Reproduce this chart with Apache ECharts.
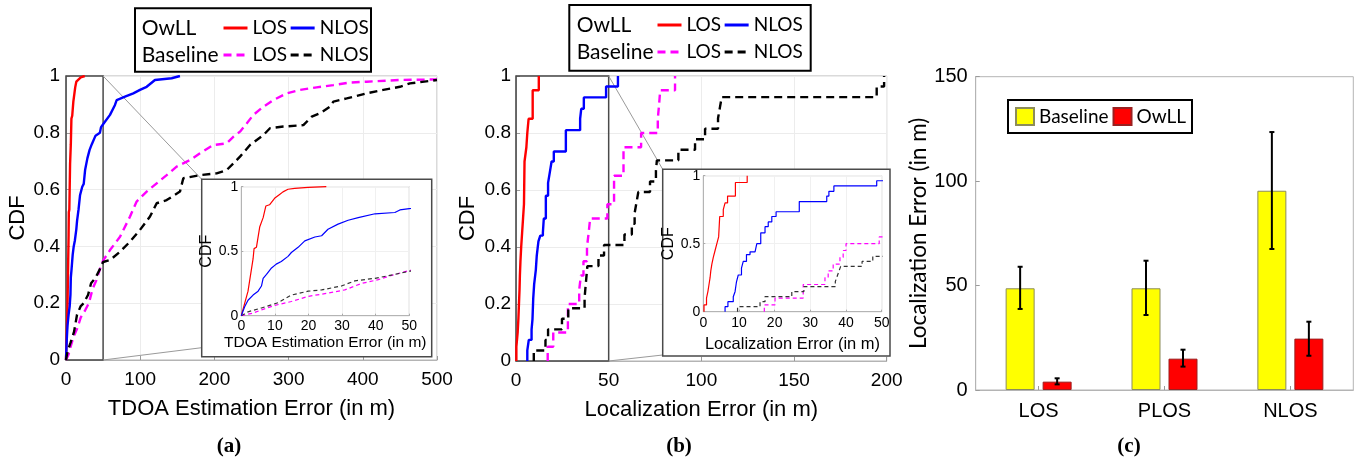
<!DOCTYPE html>
<html><head><meta charset="utf-8">
<script src="https://cdn.jsdelivr.net/npm/echarts@6/dist/echarts.min.js"></script>
<style>html,body{margin:0;padding:0;background:#fff}#c{width:1371px;height:464px}</style>
</head><body><div id="c"></div><script>
// ---------- DATA ----------
// Panel (a): TDOA estimation error CDF (x in m, F = CDF)
const aRedX = [0, 2, 3.5, 3.8, 4.5, 5.5, 6.5, 7.3, 8.4, 9.9, 11.4, 12.4, 13.9, 15.9, 19.9, 25.3];
const aRedF = [0, 0.19, 0.44, 0.52, 0.53, 0.69, 0.76, 0.85, 0.86, 0.91, 0.94, 0.96, 0.98, 0.987, 0.995, 1.0];
const aBlueX = [0, 1, 2, 3.5, 5, 6, 6.5, 7.5, 9, 10.4, 11.9, 13.9, 14.9, 16.9, 18.9, 21.9, 23.9, 25.8, 28.8, 31.8, 34.8, 39.8, 45.7, 47.2, 50, 59.3, 66, 68.3, 79.5, 90.7, 99.7, 108.7, 119.9, 142.4, 153.6];
const aBlueF = [0, 0.07, 0.12, 0.16, 0.19, 0.23, 0.29, 0.32, 0.37, 0.40, 0.42, 0.46, 0.49, 0.53, 0.58, 0.61, 0.62, 0.67, 0.71, 0.74, 0.76, 0.79, 0.80, 0.82, 0.83, 0.863, 0.898, 0.915, 0.927, 0.939, 0.951, 0.962, 0.986, 0.992, 1.0];
const aMagX = [0, 3.5, 6, 10, 14.9, 19.9, 25.8, 30.8, 35.8, 40.8, 45.7, 50, 59.3, 72.8, 86.3, 95.2, 108.7, 122.2, 135.7, 149.1, 167.1, 180.6, 198.6, 216.6, 225.5, 234.5, 243.5, 252.5, 266, 279.4, 297.4, 315.4, 337.8, 360.3, 382.7, 405.2, 450, 500];
const aMagF = [0, 0.02, 0.045, 0.08, 0.11, 0.15, 0.175, 0.2, 0.25, 0.28, 0.32, 0.35, 0.387, 0.434, 0.505, 0.558, 0.593, 0.622, 0.651, 0.681, 0.704, 0.728, 0.757, 0.763, 0.786, 0.804, 0.833, 0.863, 0.892, 0.915, 0.939, 0.951, 0.960, 0.968, 0.977, 0.980, 0.986, 0.988];
const aBlackX = [0, 2, 6, 10.9, 14.9, 19.9, 23.9, 29.8, 33.8, 39.8, 45.7, 50, 59.3, 72.8, 86.3, 99.7, 113.2, 122.2, 135.7, 153.6, 158.1, 180.6, 203, 216.6, 225.5, 234.5, 248, 266, 274.9, 292.9, 319.9, 331.2, 342.4, 355.8, 360.3, 378.3, 405.2, 427.6, 450, 463.6, 500];
const aBlackF = [0, 0.03, 0.06, 0.10, 0.16, 0.19, 0.20, 0.23, 0.27, 0.29, 0.32, 0.345, 0.352, 0.381, 0.417, 0.458, 0.505, 0.552, 0.563, 0.593, 0.640, 0.651, 0.657, 0.669, 0.692, 0.716, 0.757, 0.792, 0.816, 0.822, 0.827, 0.857, 0.869, 0.892, 0.910, 0.921, 0.939, 0.951, 0.962, 0.974, 0.986];
const aMedians = [3.5, 15];          // OwLL LOS, OwLL NLOS (inset dotted lines)

// Panel (b): localization error CDF (empirical steps)
const bRedX = [0.2, 0.9, 1.3, 1.6, 1.9, 2.1, 2.4, 2.8, 3.3, 3.8, 4.3, 4.4, 4.5, 4.6, 5.6, 6.1, 6.8, 9.0, 12.3];
const bRedF = [0.05, 0.1, 0.15, 0.2, 0.25, 0.3, 0.35, 0.4, 0.45, 0.5, 0.55, 0.6, 0.65, 0.7, 0.75, 0.8, 0.85, 0.95, 1.0];
const bBlueX = [6.1, 6.9, 8.4, 8.9, 9.3, 9.8, 10.7, 11.2, 12.1, 13.1, 14.5, 15.0, 16.1, 17.3, 18.2, 19.2, 20.4, 26.9, 34.6, 35.2, 36.6, 48.6, 55.0];
const bBlueF = [0.037, 0.074, 0.11, 0.147, 0.22, 0.27, 0.32, 0.37, 0.42, 0.44, 0.45, 0.5, 0.58, 0.625, 0.66, 0.70, 0.735, 0.81, 0.85, 0.885, 0.925, 0.963, 1.0];
const bMagX = [17.1, 20.1, 28.0, 34.1, 35.0, 36.4, 38.3, 39.2, 40.0, 49.3, 52.9, 58.0, 67.5, 76.5, 77.2, 77.8, 85.8];
const bMagF = [0.05, 0.1, 0.2, 0.25, 0.3, 0.35, 0.4, 0.45, 0.5, 0.55, 0.65, 0.75, 0.8, 0.85, 0.9, 0.95, 1.0];
const bBlackX = [9.6, 15.9, 17.3, 24.8, 28.2, 37.0, 37.5, 38.0, 38.5, 44.5, 47.5, 58.5, 62.5, 64.0, 65.0, 66.0, 72.3, 75.5, 76.0, 87.6, 96.6, 102.0, 109.0, 110.0, 111.0, 194.6, 198.6];
const bBlackF = [0.037, 0.074, 0.111, 0.148, 0.185, 0.222, 0.259, 0.296, 0.333, 0.37, 0.407, 0.444, 0.481, 0.519, 0.556, 0.593, 0.63, 0.667, 0.704, 0.741, 0.778, 0.815, 0.852, 0.889, 0.926, 0.963, 1.0];
const bMedians = [4.1, 16.0];

// Panel (c): mean localization error with error bars
const categories = ['LOS', 'PLOS', 'NLOS'];
const baseline = [48.7, 48.7, 95.4];
const baselineLo = [38.8, 35.9, 67.5];
const baselineHi = [59.0, 61.9, 123.5];
const owll = [4.0, 15.0, 24.6];
const owllLo = [2.7, 11.2, 16.4];
const owllHi = [5.6, 19.3, 32.7];

const zoomMaxA = 50, zoomMaxB = 50;

// ---------- LAYOUT / STYLE ----------
const SANS = 'Liberation Sans';
const CAL = 'Lato';
const RED = '#ff0000', BLUE = '#0000ff', MAG = '#ff00ff', BLK = '#000000';
const G = {
  aMain: {left: 66, top: 76, width: 371, height: 284},
  aIn: {left: 241.3, top: 186.7, width: 168, height: 129},
  bMain: {left: 516, top: 76, width: 370.7, height: 285},
  bIn: {left: 703.3, top: 175.7, width: 178.4, height: 136},
  c: {left: 975.7, top: 76.7, width: 377.6, height: 313.3}
};
const boxA = {x: 201.7, y: 179.3, w: 230, h: 177.4};
const boxB = {x: 662.7, y: 169.3, w: 227.3, h: 186.7};

function pairs(xs, fs, step) {
  const d = xs.map((x, i) => [x, fs[i]]);
  if (step) d.unshift([xs[0], 0]);
  return d;
}
function lineSeries(name, xs, fs, color, dashed, gi, inset, step) {
  return {
    type: 'line', name: name, xAxisIndex: gi, yAxisIndex: gi,
    data: pairs(xs, fs, step), symbol: 'none', showSymbol: false, silent: true,
    animation: false, clip: true,
    step: step ? 'end' : false,
    z: inset ? 13 : 3,
    lineStyle: {color: color, width: inset ? 1.2 : 2.4,
      type: dashed ? (inset ? [4, 3] : [8, 5]) : 'solid'},
    itemStyle: {color: color}
  };
}
function medianLine(x, color) {
  return {symbol: 'none', silent: true, animation: false, label: {show: false},
    lineStyle: {color: color, type: [1.5, 1.5], width: 1},
    data: [[{coord: [x, 0]}, {coord: [x, 0.5]}]]};
}
function zoomArea(xmax) {
  return {silent: true, animation: false,
    itemStyle: {color: 'rgba(0,0,0,0)', borderColor: '#4a4a4a', borderWidth: 1.5},
    data: [[{coord: [0, 0]}, {coord: [xmax, 1]}]]};
}

function valAxis(gi, min, max, interval, o) {
  return Object.assign({
    type: 'value', gridIndex: gi, min: min, max: max, interval: interval,
    axisLine: {show: true, lineStyle: {color: '#b4b4b4', width: 1}},
    axisTick: {show: true, inside: true, length: 4, lineStyle: {color: '#9a9a9a'}},
    splitLine: {show: true, lineStyle: {color: '#ececec', width: 1}},
    axisLabel: {color: '#000', fontFamily: SANS, fontSize: 19, margin: 10},
    nameLocation: 'middle',
    nameTextStyle: {color: '#000', fontFamily: SANS, fontSize: 22}
  }, o || {});
}
const insetLbl = (m) => ({color: '#000', fontFamily: SANS, fontSize: 14, margin: m});
const insetTick = {show: true, inside: true, length: 2, lineStyle: {color: '#aaa'}};
const insetSplit = {show: true, lineStyle: {color: '#f0f0f0'}};

const xAxes = [
  valAxis(0, 0, 500, 100, {name: 'TDOA Estimation Error (in m)', nameGap: 38}),
  valAxis(1, 0, 50, 10, {name: 'TDOA Estimation Error (in m)', nameGap: 19, z: 12,
    axisLabel: insetLbl(3), nameTextStyle: {color: '#000', fontFamily: SANS, fontSize: 15.5},
    axisTick: insetTick, splitLine: insetSplit}),
  valAxis(2, 0, 200, 50, {name: 'Localization Error (in m)', nameGap: 38}),
  valAxis(3, 0, 50, 10, {name: 'Localization Error (in m)', nameGap: 24, z: 12,
    axisLabel: insetLbl(4), nameTextStyle: {color: '#000', fontFamily: SANS, fontSize: 16.5},
    axisTick: insetTick, splitLine: insetSplit}),
  {type: 'category', gridIndex: 4, data: categories,
    axisLine: {show: true, lineStyle: {color: '#b4b4b4'}},
    axisTick: {show: true, inside: true, alignWithLabel: true, length: 4, lineStyle: {color: '#9a9a9a'}},
    splitLine: {show: false},
    axisLabel: {color: '#000', fontFamily: SANS, fontSize: 20, margin: 11}}
];
const yAxes = [
  valAxis(0, 0, 1, 0.2, {name: 'CDF', nameGap: 37, axisLabel: {color: '#000', fontFamily: SANS, fontSize: 19, margin: 6}}),
  valAxis(1, 0, 1, 0.5, {name: 'CDF', nameGap: 21, z: 12,
    axisLabel: insetLbl(3), nameTextStyle: {color: '#000', fontFamily: SANS, fontSize: 16},
    axisTick: insetTick, splitLine: insetSplit}),
  valAxis(2, 0, 1, 0.2, {name: 'CDF', nameGap: 37, axisLabel: {color: '#000', fontFamily: SANS, fontSize: 19, margin: 5}}),
  valAxis(3, 0, 1, 0.5, {name: 'CDF', nameGap: 24, z: 12,
    axisLabel: insetLbl(3), nameTextStyle: {color: '#000', fontFamily: SANS, fontSize: 16},
    axisTick: insetTick, splitLine: insetSplit}),
  valAxis(4, 0, 150, 50, {name: 'Localization Error (in m)', nameGap: 44,
    splitLine: {show: false},
    axisLabel: {color: '#000', fontFamily: SANS, fontSize: 20, margin: 8},
    nameTextStyle: {color: '#000', fontFamily: CAL, fontSize: 22.5}})
];

const grids = [G.aMain, G.aIn, G.bMain, G.bIn, G.c].map((g, i) => Object.assign({
  show: true, borderColor: '#b4b4b4', borderWidth: 1,
  backgroundColor: (i === 1 || i === 3) ? '#fff' : 'transparent',
  containLabel: false, outerBoundsMode: 'none',
  z: (i === 1 || i === 3) ? 11 : 0
}, g));

const series = [];
// (a) main
series.push(lineSeries('a-OwLL-LOS', aRedX, aRedF, RED, false, 0, false, false));
series.push(lineSeries('a-OwLL-NLOS', aBlueX, aBlueF, BLUE, false, 0, false, false));
series.push(lineSeries('a-Baseline-LOS', aMagX, aMagF, MAG, true, 0, false, false));
const aBlk = lineSeries('a-Baseline-NLOS', aBlackX, aBlackF, BLK, true, 0, false, false);
aBlk.markArea = zoomArea(zoomMaxA);
series.push(aBlk);
// (a) inset
const aiR = lineSeries('ai-red', aRedX, aRedF, RED, false, 1, true, false); aiR.markLine = medianLine(aMedians[0], RED);
const aiB = lineSeries('ai-blue', aBlueX, aBlueF, BLUE, false, 1, true, false); aiB.markLine = medianLine(aMedians[1], BLUE);
series.push(lineSeries('ai-mag', aMagX, aMagF, MAG, true, 1, true, false));
series.push(lineSeries('ai-blk', aBlackX, aBlackF, '#333', true, 1, true, false));
series.push(aiR, aiB);
// (b) main
series.push(lineSeries('b-OwLL-LOS', bRedX, bRedF, RED, false, 2, false, true));
series.push(lineSeries('b-OwLL-NLOS', bBlueX, bBlueF, BLUE, false, 2, false, true));
series.push(lineSeries('b-Baseline-LOS', bMagX, bMagF, MAG, true, 2, false, true));
const bBlk = lineSeries('b-Baseline-NLOS', bBlackX, bBlackF, BLK, true, 2, false, true);
bBlk.markArea = zoomArea(zoomMaxB);
series.push(bBlk);
// (b) inset
const biR = lineSeries('bi-red', bRedX, bRedF, RED, false, 3, true, true); biR.markLine = medianLine(bMedians[0], RED);
const biB = lineSeries('bi-blue', bBlueX, bBlueF, BLUE, false, 3, true, true); biB.markLine = medianLine(bMedians[1], BLUE);
series.push(lineSeries('bi-mag', bMagX, bMagF, MAG, true, 3, true, true));
series.push(lineSeries('bi-blk', bBlackX, bBlackF, '#333', true, 3, true, true));
series.push(biR, biB);
// (c) bars + error bars
const BAR_W = 29, BAR_GAP = 8;
series.push({type: 'bar', name: 'Baseline', xAxisIndex: 4, yAxisIndex: 4, data: baseline,
  barWidth: BAR_W, barGap: (BAR_GAP / BAR_W * 100) + '%', animation: false, silent: true,
  itemStyle: {color: '#ffff00', borderColor: '#8c8c5a', borderWidth: 1}});
series.push({type: 'bar', name: 'OwLL', xAxisIndex: 4, yAxisIndex: 4, data: owll,
  barWidth: BAR_W, barGap: (BAR_GAP / BAR_W * 100) + '%', animation: false, silent: true,
  itemStyle: {color: '#ff0000', borderColor: '#9a2020', borderWidth: 1}});
function errRender(offset) {
  return function (params, api) {
    const c = api.value(0), lo = api.value(1), hi = api.value(2);
    const p1 = api.coord([c, lo]), p2 = api.coord([c, hi]);
    const x = p1[0] + offset, cap = 2.5;
    const st = {stroke: '#000', lineWidth: 2};
    return {type: 'group', children: [
      {type: 'line', shape: {x1: x, y1: p1[1], x2: x, y2: p2[1]}, style: st},
      {type: 'line', shape: {x1: x - cap, y1: p1[1], x2: x + cap, y2: p1[1]}, style: st},
      {type: 'line', shape: {x1: x - cap, y1: p2[1], x2: x + cap, y2: p2[1]}, style: st}
    ]};
  };
}
const off = (BAR_W + BAR_GAP) / 2;
series.push({type: 'custom', name: 'errBase', xAxisIndex: 4, yAxisIndex: 4, z: 5, silent: true, animation: false,
  renderItem: errRender(-off), encode: {x: 0, y: [1, 2]},
  data: categories.map((c, i) => [i, baselineLo[i], baselineHi[i]])});
series.push({type: 'custom', name: 'errOwll', xAxisIndex: 4, yAxisIndex: 4, z: 5, silent: true, animation: false,
  renderItem: errRender(off), encode: {x: 0, y: [1, 2]},
  data: categories.map((c, i) => [i, owllLo[i], owllHi[i]])});

function lineLegend(names, left, cy) {
  return {data: names, left: left, top: cy - 11, orient: 'horizontal', padding: 0, z: 30,
    itemWidth: 24, itemHeight: 10, itemGap: 2, selectedMode: false,
    itemStyle: {opacity: 0, color: 'rgba(0,0,0,0)', borderWidth: 0},
    lineStyle: {width: 3},
    formatter: n => n.split('-')[2],
    textStyle: {fontFamily: CAL, fontSize: 19, color: '#000', lineHeight: 22}};
}
const legends = [
  lineLegend(['a-OwLL-LOS', 'a-OwLL-NLOS'], 222, 28),
  lineLegend(['a-Baseline-LOS', 'a-Baseline-NLOS'], 222, 55),
  lineLegend(['b-OwLL-LOS', 'b-OwLL-NLOS'], 656, 25),
  lineLegend(['b-Baseline-LOS', 'b-Baseline-NLOS'], 656, 52),
  {data: ['Baseline', 'OwLL'], left: 1008, top: 100, padding: [7, 6, 7, 7], selectedMode: false, z: 30,
    borderColor: '#000', borderWidth: 2, backgroundColor: '#fff', icon: 'rect',
    itemWidth: 18, itemHeight: 17, itemGap: 4,
    textStyle: {fontFamily: CAL, fontSize: 19, color: '#000'}}
];

const txt = (x, y, s, o) => Object.assign({type: 'text', x: x, y: y, z: 20,
  style: Object.assign({text: s, fill: '#000', font: '21px ' + CAL, textAlign: 'left', textVerticalAlign: 'middle'}, o || {})});
const staticGraphic = [
  {type: 'rect', z: 10, shape: {x: boxA.x, y: boxA.y, width: boxA.w, height: boxA.h},
    style: {fill: '#fff', stroke: '#4a4a4a', lineWidth: 1.5}},
  {type: 'rect', z: 10, shape: {x: boxB.x, y: boxB.y, width: boxB.w, height: boxB.h},
    style: {fill: '#fff', stroke: '#4a4a4a', lineWidth: 1.5}},
  {type: 'rect', z: 15, shape: {x: 135, y: 8.3, width: 236, height: 63.4}, style: {fill: '#fff', stroke: '#000', lineWidth: 2}},
  {type: 'rect', z: 15, shape: {x: 569.3, y: 5, width: 241.4, height: 65.7}, style: {fill: '#fff', stroke: '#000', lineWidth: 2}},
  txt(141.7, 28, 'OwLL'), txt(141.7, 55, 'Baseline'),
  txt(576.7, 25, 'OwLL'), txt(576.7, 52, 'Baseline'),
  txt(229, 447, '(a)', {font: 'bold 21px "Liberation Serif"', textAlign: 'center'}),
  txt(679, 447, '(b)', {font: 'bold 21px "Liberation Serif"', textAlign: 'center'}),
  txt(1129, 447, '(c)', {font: 'bold 21px "Liberation Serif"', textAlign: 'center'})
];

const chart = echarts.init(document.getElementById('c'), null, {renderer: 'canvas'});
chart.setOption({
  backgroundColor: '#fff', animation: false,
  grid: grids, xAxis: xAxes, yAxis: yAxes, series: series, legend: legends,
  graphic: {elements: staticGraphic}
});
// connector lines from zoom rectangles to the insets
const pa1 = chart.convertToPixel({xAxisIndex: 0, yAxisIndex: 0}, [zoomMaxA, 1]);
const pa0 = chart.convertToPixel({xAxisIndex: 0, yAxisIndex: 0}, [zoomMaxA, 0]);
const pb1 = chart.convertToPixel({xAxisIndex: 2, yAxisIndex: 2}, [zoomMaxB, 1]);
const pb0 = chart.convertToPixel({xAxisIndex: 2, yAxisIndex: 2}, [zoomMaxB, 0]);
const conn = (p, x, y) => ({type: 'line', z: 1, shape: {x1: p[0], y1: p[1], x2: x, y2: y}, style: {stroke: '#9a9a9a', lineWidth: 1}});
chart.setOption({graphic: {elements: staticGraphic.concat([
  conn(pa1, boxA.x, boxA.y), conn(pa0, boxA.x, boxA.y + boxA.h - 9),
  conn(pb1, boxB.x, boxB.y), conn(pb0, boxB.x, boxB.y + boxB.h - 1)
])}}, {replaceMerge: ['graphic']});
</script></body></html>
